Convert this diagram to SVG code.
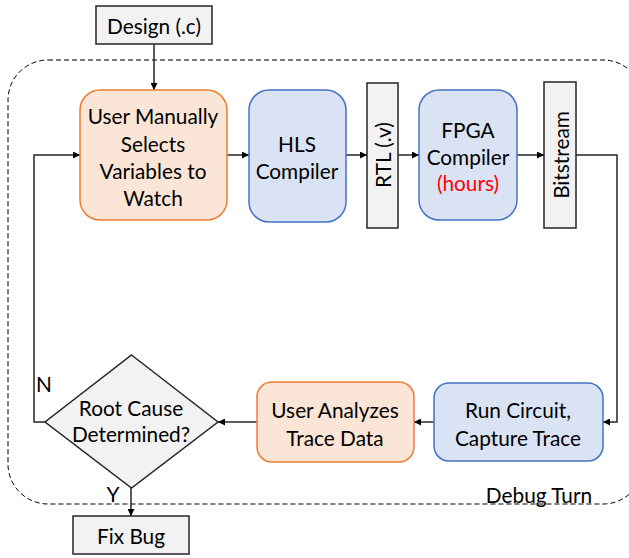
<svg xmlns="http://www.w3.org/2000/svg" width="629" height="558" viewBox="0 0 629 558">
<defs>
<style>
text{font-family:Lato,"Open Sans","Liberation Sans",sans-serif;font-size:20.8px;fill:#000;text-anchor:middle;dominant-baseline:central}
.gray{fill:#F2F2F2;stroke:#262626;stroke-width:1.5}
.orange{fill:#FBE5D6;stroke:#ED7D31;stroke-width:1.5}
.blue{fill:#DAE3F3;stroke:#4472C4;stroke-width:1.5}
.conn{fill:none;stroke:#262626;stroke-width:1.5}
.arr{marker-end:url(#ah)}
</style>
<marker id="ah" viewBox="0 0 10 10" refX="10" refY="5" markerWidth="7" markerHeight="7" markerUnits="userSpaceOnUse" orient="auto">
<path d="M0,0 L10,5 L0,10 z" fill="#000"/>
</marker>
</defs>
<rect width="629" height="558" fill="#fff"/>
<g id="debug-turn">
<rect x="8" y="60" width="635" height="444" rx="40" fill="none" stroke="#000" stroke-width="1" stroke-dasharray="5,3"/>
<text x="539" y="494">Debug Turn</text>
</g>
<g id="connectors">
<path class="conn arr" d="M154,44 V90"/>
<path class="conn arr" d="M227,155 H249"/>
<path class="conn arr" d="M346,155 H367"/>
<path class="conn arr" d="M398,155 H419"/>
<path class="conn arr" d="M517,155 H544"/>
<path class="conn arr" d="M576,155 H617 V422 H603"/>
<path class="conn arr" d="M434,422 H414"/>
<path class="conn arr" d="M257,422 H218"/>
<path class="conn arr" d="M45,422 H34 V155 H80"/>
<path class="conn arr" d="M131,488 V516"/>
<text x="44" y="383">N</text>
<text x="113" y="493">Y</text>
</g>
<g id="design">
<rect class="gray" x="96" y="6" width="116" height="38"/>
<text x="154" y="25">Design (.c)</text>
</g>
<g id="select-vars">
<rect class="orange" x="80" y="90" width="147" height="130" rx="20"/>
<text x="153" y="115">User Manually</text>
<text x="153" y="143">Selects</text>
<text x="153" y="170">Variables to</text>
<text x="153" y="197">Watch</text>
</g>
<g id="hls">
<rect class="blue" x="249" y="90" width="97" height="132" rx="20"/>
<text x="297" y="143">HLS</text>
<text x="297" y="170">Compiler</text>
</g>
<g id="rtl">
<rect class="gray" x="367" y="83" width="31" height="145"/>
<text x="382" y="155" transform="rotate(-90 382 155)">RTL (.v)</text>
</g>
<g id="fpga">
<rect class="blue" x="419" y="90" width="98" height="130" rx="20"/>
<text x="468" y="129">FPGA</text>
<text x="468" y="156">Compiler</text>
<text x="468" y="182" style="fill:#FF0000">(hours)</text>
</g>
<g id="bitstream">
<rect class="gray" x="544" y="82" width="32" height="146"/>
<text x="560" y="155" transform="rotate(-90 560 155)">Bitstream</text>
</g>
<g id="run-circuit">
<rect class="blue" x="434" y="383" width="169" height="78" rx="15"/>
<text x="518" y="409">Run Circuit,</text>
<text x="518" y="437">Capture Trace</text>
</g>
<g id="analyze">
<rect class="orange" x="257" y="382" width="157" height="80" rx="15"/>
<text x="335" y="409">User Analyzes</text>
<text x="335" y="437">Trace Data</text>
</g>
<g id="root-cause">
<polygon class="gray" points="131.5,355 218,422 131.5,488 45,422"/>
<text x="131" y="407">Root Cause</text>
<text x="131" y="433">Determined?</text>
</g>
<g id="fix-bug">
<rect class="gray" x="73" y="516" width="116" height="38"/>
<text x="131" y="535">Fix Bug</text>
</g>
</svg>
